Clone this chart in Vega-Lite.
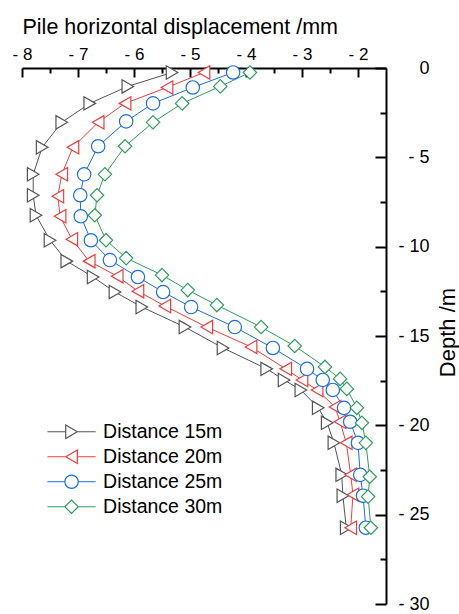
{
"$schema": "https://vega.github.io/schema/vega-lite/v6.json",
"width": 364, "height": 536,
"autosize": "none",
"padding": {"left": 22, "top": 68, "right": 73, "bottom": 10},
"background": "white",
"config": {"font": "Liberation Sans", "view": {"stroke": null}},
"data": {"values": [
{"s":"Distance 15m","x":-5.32,"d":0.25},{"s":"Distance 15m","x":-6.11,"d":1.03},{"s":"Distance 15m","x":-6.79,"d":1.98},{"s":"Distance 15m","x":-7.29,"d":3.04},{"s":"Distance 15m","x":-7.64,"d":4.44},{"s":"Distance 15m","x":-7.80,"d":5.95},{"s":"Distance 15m","x":-7.80,"d":7.12},{"s":"Distance 15m","x":-7.75,"d":8.24},{"s":"Distance 15m","x":-7.50,"d":9.64},{"s":"Distance 15m","x":-7.20,"d":10.81},{"s":"Distance 15m","x":-6.73,"d":11.70},{"s":"Distance 15m","x":-6.34,"d":12.54},{"s":"Distance 15m","x":-5.86,"d":13.38},{"s":"Distance 15m","x":-5.09,"d":14.50},{"s":"Distance 15m","x":-4.41,"d":15.67},{"s":"Distance 15m","x":-3.63,"d":16.84},{"s":"Distance 15m","x":-3.32,"d":17.46},{"s":"Distance 15m","x":-3.02,"d":18.02},{"s":"Distance 15m","x":-2.71,"d":19.02},{"s":"Distance 15m","x":-2.55,"d":19.86},{"s":"Distance 15m","x":-2.43,"d":20.98},{"s":"Distance 15m","x":-2.29,"d":22.77},{"s":"Distance 15m","x":-2.27,"d":23.94},{"s":"Distance 15m","x":-2.21,"d":25.73},
{"s":"Distance 20m","x":-4.75,"d":0.25},{"s":"Distance 20m","x":-5.41,"d":1.09},{"s":"Distance 20m","x":-6.16,"d":1.98},{"s":"Distance 20m","x":-6.64,"d":3.04},{"s":"Distance 20m","x":-7.09,"d":4.44},{"s":"Distance 20m","x":-7.29,"d":5.95},{"s":"Distance 20m","x":-7.36,"d":7.18},{"s":"Distance 20m","x":-7.32,"d":8.30},{"s":"Distance 20m","x":-7.11,"d":9.58},{"s":"Distance 20m","x":-6.80,"d":10.81},{"s":"Distance 20m","x":-6.30,"d":11.65},{"s":"Distance 20m","x":-5.93,"d":12.49},{"s":"Distance 20m","x":-5.45,"d":13.32},{"s":"Distance 20m","x":-4.70,"d":14.50},{"s":"Distance 20m","x":-3.91,"d":15.61},{"s":"Distance 20m","x":-3.29,"d":16.84},{"s":"Distance 20m","x":-3.00,"d":17.46},{"s":"Distance 20m","x":-2.73,"d":18.02},{"s":"Distance 20m","x":-2.41,"d":18.97},{"s":"Distance 20m","x":-2.32,"d":19.80},{"s":"Distance 20m","x":-2.21,"d":20.98},{"s":"Distance 20m","x":-2.13,"d":22.77},{"s":"Distance 20m","x":-2.09,"d":23.88},{"s":"Distance 20m","x":-2.13,"d":25.73},
{"s":"Distance 25m","x":-4.23,"d":0.25},{"s":"Distance 25m","x":-4.95,"d":1.09},{"s":"Distance 25m","x":-5.66,"d":1.98},{"s":"Distance 25m","x":-6.14,"d":2.99},{"s":"Distance 25m","x":-6.64,"d":4.38},{"s":"Distance 25m","x":-6.89,"d":5.95},{"s":"Distance 25m","x":-6.96,"d":7.12},{"s":"Distance 25m","x":-6.95,"d":8.30},{"s":"Distance 25m","x":-6.77,"d":9.64},{"s":"Distance 25m","x":-6.43,"d":10.75},{"s":"Distance 25m","x":-5.93,"d":11.70},{"s":"Distance 25m","x":-5.48,"d":12.54},{"s":"Distance 25m","x":-4.98,"d":13.38},{"s":"Distance 25m","x":-4.20,"d":14.50},{"s":"Distance 25m","x":-3.52,"d":15.67},{"s":"Distance 25m","x":-2.91,"d":16.84},{"s":"Distance 25m","x":-2.63,"d":17.46},{"s":"Distance 25m","x":-2.45,"d":18.02},{"s":"Distance 25m","x":-2.25,"d":19.02},{"s":"Distance 25m","x":-2.14,"d":19.80},{"s":"Distance 25m","x":-2.00,"d":20.98},{"s":"Distance 25m","x":-1.96,"d":22.77},{"s":"Distance 25m","x":-1.91,"d":23.94},{"s":"Distance 25m","x":-1.86,"d":25.73},
{"s":"Distance 30m","x":-3.93,"d":0.25},{"s":"Distance 30m","x":-4.46,"d":1.03},{"s":"Distance 30m","x":-5.14,"d":1.98},{"s":"Distance 30m","x":-5.66,"d":3.04},{"s":"Distance 30m","x":-6.16,"d":4.38},{"s":"Distance 30m","x":-6.52,"d":5.95},{"s":"Distance 30m","x":-6.66,"d":7.12},{"s":"Distance 30m","x":-6.70,"d":8.24},{"s":"Distance 30m","x":-6.50,"d":9.64},{"s":"Distance 30m","x":-6.14,"d":10.64},{"s":"Distance 30m","x":-5.50,"d":11.59},{"s":"Distance 30m","x":-5.04,"d":12.43},{"s":"Distance 30m","x":-4.52,"d":13.27},{"s":"Distance 30m","x":-3.73,"d":14.50},{"s":"Distance 30m","x":-3.13,"d":15.56},{"s":"Distance 30m","x":-2.59,"d":16.73},{"s":"Distance 30m","x":-2.32,"d":17.40},{"s":"Distance 30m","x":-2.20,"d":17.96},{"s":"Distance 30m","x":-2.02,"d":19.02},{"s":"Distance 30m","x":-1.93,"d":19.86},{"s":"Distance 30m","x":-1.86,"d":20.98},{"s":"Distance 30m","x":-1.79,"d":22.88},{"s":"Distance 30m","x":-1.82,"d":23.99},{"s":"Distance 30m","x":-1.77,"d":25.73}
]},
"layer": [
{
"mark": {"type": "line", "strokeWidth": 1},
"encoding": {
"x": {"field": "x", "type": "quantitative", "scale": {"domain": [-8, -1.5], "nice": false, "zero": false},
 "axis": {"orient": "top", "values": [-8,-7,-6,-5,-4,-3,-2], "labelExpr": "'- ' + abs(datum.value)", "title": "Pile horizontal displacement /mm", "grid": false,
 "tickSize": -9, "tickWidth": 2, "tickColor": "black", "domainColor": "black", "domainWidth": 2, "labelFontSize": 17, "labelColor": "black", "labelPadding": 14, "labelFlush": false,
 "titleFontSize": 21.5, "titleFontWeight": "normal", "titleColor": "black", "titleAnchor": "start", "titlePadding": 7}},
"y": {"field": "d", "type": "quantitative", "scale": {"domain": [0, 30], "reverse": true, "nice": false, "zero": false},
 "axis": {"orient": "right", "values": [0,5,10,15,20,25,30], "labelExpr": "datum.value == 0 ? '0' : '- ' + datum.value", "title": "Depth /m", "grid": false,
 "tickSize": -11, "tickWidth": 2, "tickColor": "black", "domainColor": "black", "domainWidth": 2, "labelFontSize": 18, "labelColor": "black", "labelAlign": "right", "labelPadding": 54, "labelFlush": false,
 "titleFontSize": 22, "titleFontWeight": "normal", "titleColor": "black", "titleAngle": 270, "titleX": 61, "titleY": 264, "titleAlign": "center", "titleBaseline": "middle"}},
"color": {"field": "s", "type": "nominal", "scale": {"domain": ["Distance 15m","Distance 20m","Distance 25m","Distance 30m"], "range": ["#555555","#f23c3c","#1a6ee6","#2e9e5b"]}, "legend": null},
"order": {"field": "d", "type": "quantitative"}
}
},
{
"mark": {"type": "point", "filled": true, "fill": "white", "size": 180, "strokeWidth": 1.2, "opacity": 1},
"encoding": {
"x": {"field": "x", "type": "quantitative", "axis": {"orient": "top", "values": [-7.5,-6.5,-5.5,-4.5,-3.5,-2.5], "labels": false, "domain": false, "title": null, "grid": false, "tickSize": -5, "tickWidth": 2, "tickColor": "black"}},
"y": {"field": "d", "type": "quantitative", "axis": {"orient": "right", "values": [2.5,7.5,12.5,17.5,22.5,27.5], "labels": false, "domain": false, "title": null, "grid": false, "tickSize": -6, "tickWidth": 2, "tickColor": "black"}},
"stroke": {"field": "s", "type": "nominal", "scale": {"domain": ["Distance 15m","Distance 20m","Distance 25m","Distance 30m"], "range": ["#555555","#f23c3c","#1a6ee6","#2e9e5b"]}, "legend": null},
"shape": {"field": "s", "type": "nominal", "scale": {"domain": ["Distance 15m","Distance 20m","Distance 25m","Distance 30m"], "range": ["triangle-right","triangle-left","circle","diamond"]}, "legend": null}
}
},
{
"transform": [{"filter": "datum.d < 0"}],
"mark": {"type": "point", "filled": false, "size": 180, "strokeWidth": 1.2, "opacity": 1},
"encoding": {
"x": {"field": "x", "type": "quantitative", "axis": null},
"y": {"field": "d", "type": "quantitative", "axis": null},
"stroke": {"field": "s", "type": "nominal", "scale": {"domain": ["Distance 15m","Distance 20m","Distance 25m","Distance 30m"], "range": ["#555555","#f23c3c","#1a6ee6","#2e9e5b"]},
 "legend": {"orient": "none", "legendX": 39.8, "legendY": 354, "title": null, "labelFontSize": 19.5, "labelColor": "black", "labelOffset": 21.8, "symbolSize": 180, "rowPadding": 4, "symbolStrokeWidth": 1.2}},
"shape": {"field": "s", "type": "nominal", "scale": {"domain": ["Distance 15m","Distance 20m","Distance 25m","Distance 30m"], "range": ["M-3.6,0L-0.866,0M0.866,0L3.6,0M0.866,0L-0.866,-1L-0.866,1Z","M-3.6,0L-0.866,0M0.866,0L3.6,0M-0.866,0L0.866,-1L0.866,1Z","M-3.6,0L-1,0M1,0L3.6,0M1,0A1,1 0 1,1 -1,0A1,1 0 1,1 1,0Z","M-3.6,0L-1,0M1,0L3.6,0M-1,0L0,-1L1,0L0,1Z"]},
 "legend": {"orient": "none", "legendX": 39.8, "legendY": 354, "title": null, "labelFontSize": 19.5, "labelColor": "black", "labelOffset": 21.8, "symbolSize": 180, "rowPadding": 4, "symbolStrokeWidth": 1.2}}
}
}
],
"resolve": {"axis": {"x": "independent", "y": "independent"}, "scale": {"shape": "independent", "stroke": "independent"}, "legend": {"shape": "independent", "stroke": "independent"}}
}
